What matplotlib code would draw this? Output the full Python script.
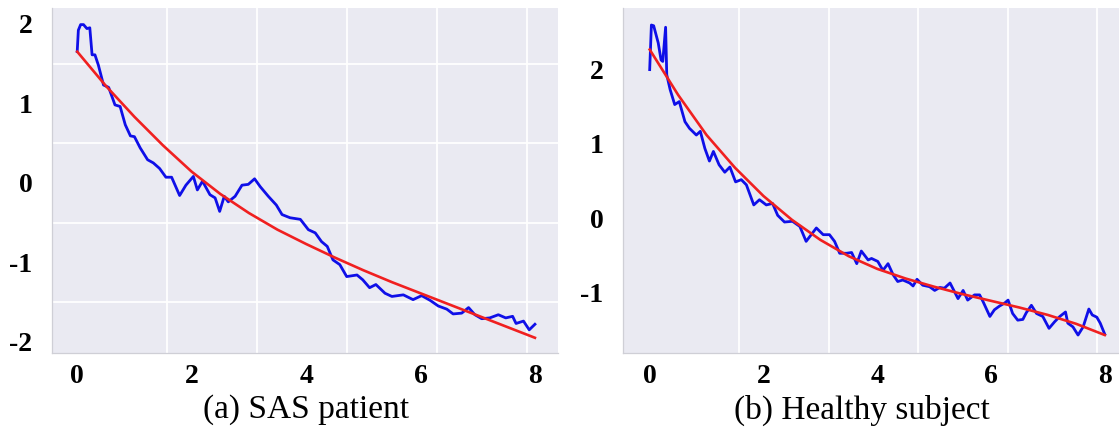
import numpy as np
import matplotlib
matplotlib.use("Agg")
import matplotlib.pyplot as plt
from matplotlib.ticker import FixedLocator

plt.rcParams['axes.unicode_minus'] = False
plt.rcParams['font.family'] = ['Liberation Serif', 'DejaVu Serif']

# (a) SAS patient - noisy curve
xa = [0, 0.02, 0.06, 0.11, 0.17, 0.22, 0.26, 0.31, 0.37, 0.46,
      0.55, 0.66, 0.75, 0.84, 0.93, 1.0, 1.10, 1.23, 1.33, 1.44,
      1.55, 1.65, 1.79, 1.90, 2.03, 2.10, 2.19, 2.32, 2.41, 2.49,
      2.57, 2.64, 2.76, 2.88, 2.99, 3.10, 3.20, 3.34, 3.48, 3.58,
      3.72, 3.90, 4.04, 4.16, 4.27, 4.37, 4.47, 4.59, 4.71, 4.89,
      4.99, 5.11, 5.22, 5.38, 5.50, 5.70, 5.87, 6.02, 6.17, 6.31,
      6.46, 6.57, 6.72, 6.84, 6.95, 7.07, 7.21, 7.36, 7.49, 7.61,
      7.67, 7.80, 7.90, 8.0]
ya = [1.65, 1.92, 1.99, 1.99, 1.94, 1.95, 1.61, 1.61, 1.48, 1.23,
      1.20, 0.98, 0.96, 0.73, 0.59, 0.58, 0.44, 0.29, 0.25, 0.18,
      0.07, 0.07, -0.16, -0.03, 0.08, -0.09, 0.02, -0.15, -0.19, -0.36,
      -0.17, -0.24, -0.17, -0.03, -0.02, 0.05, -0.05, -0.17, -0.28, -0.40,
      -0.44, -0.46, -0.59, -0.63, -0.74, -0.80, -0.97, -1.03, -1.18, -1.16,
      -1.22, -1.32, -1.28, -1.39, -1.43, -1.41, -1.47, -1.42, -1.48, -1.55,
      -1.59, -1.65, -1.64, -1.57, -1.66, -1.71, -1.70, -1.66, -1.70, -1.68,
      -1.77, -1.74, -1.85, -1.78]

# (b) Healthy subject - noisy curve
xb = [0, 0.03, 0.07, 0.15, 0.20, 0.23, 0.28, 0.30, 0.36, 0.44,
      0.52, 0.62, 0.70, 0.82, 0.89, 0.97, 1.05, 1.12, 1.22, 1.32,
      1.41, 1.51, 1.61, 1.70, 1.83, 1.93, 2.05, 2.16, 2.25, 2.37,
      2.51, 2.64, 2.75, 2.84, 2.93, 3.05, 3.16, 3.25, 3.34, 3.46,
      3.55, 3.64, 3.72, 3.84, 3.90, 4.01, 4.10, 4.19, 4.28, 4.36,
      4.45, 4.57, 4.63, 4.70, 4.80, 4.92, 5.01, 5.10, 5.18, 5.28,
      5.42, 5.51, 5.59, 5.71, 5.80, 5.86, 5.98, 6.06, 6.15, 6.24,
      6.30, 6.38, 6.47, 6.56, 6.62, 6.71, 6.80, 6.91, 7.02, 7.12,
      7.21, 7.31, 7.35, 7.44, 7.53, 7.62, 7.72, 7.78, 7.86, 7.92,
      8.0]
yb = [2.00, 2.60, 2.59, 2.36, 2.13, 2.11, 2.57, 1.93, 1.73, 1.53,
      1.57, 1.30, 1.21, 1.12, 1.17, 0.94, 0.77, 0.90, 0.72, 0.62,
      0.69, 0.49, 0.52, 0.45, 0.18, 0.25, 0.18, 0.20, 0.04, -0.05,
      -0.04, -0.11, -0.31, -0.22, -0.13, -0.22, -0.22, -0.31, -0.47, -0.47,
      -0.46, -0.61, -0.44, -0.56, -0.54, -0.58, -0.70, -0.61, -0.76, -0.85,
      -0.83, -0.87, -0.91, -0.82, -0.90, -0.92, -0.97, -0.93, -0.94, -0.87,
      -1.08, -0.97, -1.10, -1.03, -1.03, -1.12, -1.32, -1.23, -1.18, -1.14,
      -1.10, -1.28, -1.37, -1.36, -1.27, -1.17, -1.28, -1.32, -1.48, -1.39,
      -1.32, -1.26, -1.41, -1.46, -1.57, -1.46, -1.22, -1.30, -1.33, -1.41,
      -1.56]

# fitted (red) curves
x_fit = [0, 0.5, 1.0, 1.5, 2.0, 2.5, 3.0, 3.5, 4.0, 4.5, 5.0, 5.5, 6.0, 6.5, 7.0, 7.5, 8.0]
ya_fit = [1.65, 1.22, 0.83, 0.47, 0.14, -0.14, -0.38, -0.59, -0.77, -0.94,
          -1.10, -1.25, -1.39, -1.53, -1.67, -1.81, -1.95]
yb_fit = [2.27, 1.66, 1.12, 0.68, 0.30, -0.02, -0.29, -0.51, -0.68, -0.81,
          -0.92, -1.02, -1.11, -1.20, -1.30, -1.42, -1.57]

xticks = [0, 2, 4, 6, 8]
captions = ['(a) SAS patient', '(b) Healthy subject']

fig = plt.figure(figsize=(11.19, 4.40), dpi=100)
fig.patch.set_facecolor('white')

ax1 = fig.add_axes([0.0465, 0.198, 0.452, 0.784])
ax2 = fig.add_axes([0.5567, 0.198, 0.4433, 0.784])

panels = [
    (ax1, xa, ya, ya_fit, (-0.44, 8.40), (-2.14, 2.20), [2, 1, 0, -1, -2],
     np.arange(-2.0, 2.01, 0.5)),
    (ax2, xb, yb, yb_fit, (-0.47, 8.25), (-1.81, 2.83), [2, 1, 0, -1],
     [-1, 0, 1, 2]),
]

for ax, x, y, yfit, xlim, ylim, yticks, ygrid in panels:
    ax.set_facecolor('#eaeaf2')
    ax.plot(x, y, color='#0f0fe8', lw=2.0, zorder=3)
    ax.plot(x_fit, yfit, color='#f02020', lw=1.9, zorder=4)
    ax.set_xlim(*xlim)
    ax.set_ylim(*ylim)

    ax.set_xticks(xticks)
    ax.set_xticklabels([str(t) for t in xticks])
    ax.xaxis.set_minor_locator(FixedLocator(np.arange(6) * 1.573))
    ax.set_yticks(yticks)
    ax.set_yticklabels([str(t) for t in yticks])
    ax.yaxis.set_minor_locator(FixedLocator(ygrid))

    ax.xaxis.grid(False, which='major')
    ax.yaxis.grid(False, which='major')
    ax.xaxis.grid(True, which='minor', color='white', lw=1.3)
    ax.yaxis.grid(True, which='minor', color='white', lw=1.3)
    ax.set_axisbelow(True)

    ax.tick_params(which='both', length=0)
    ax.tick_params(axis='y', pad=14)
    ax.tick_params(axis='x', pad=8)
    for lab in ax.get_xticklabels() + ax.get_yticklabels():
        lab.set_fontsize(20)
        lab.set_fontweight('bold')

    for side in ['top', 'right']:
        ax.spines[side].set_visible(False)
    for side in ['left', 'bottom']:
        ax.spines[side].set_color('#cfcfd6')
        ax.spines[side].set_linewidth(0.9)

fig.text(306 / 1119, 1 - 410 / 440, captions[0], fontsize=24,
         ha='center', va='center')
fig.text(862 / 1119, 1 - 410 / 440, captions[1], fontsize=24,
         ha='center', va='center')

fig.savefig('out.png', dpi=100)
